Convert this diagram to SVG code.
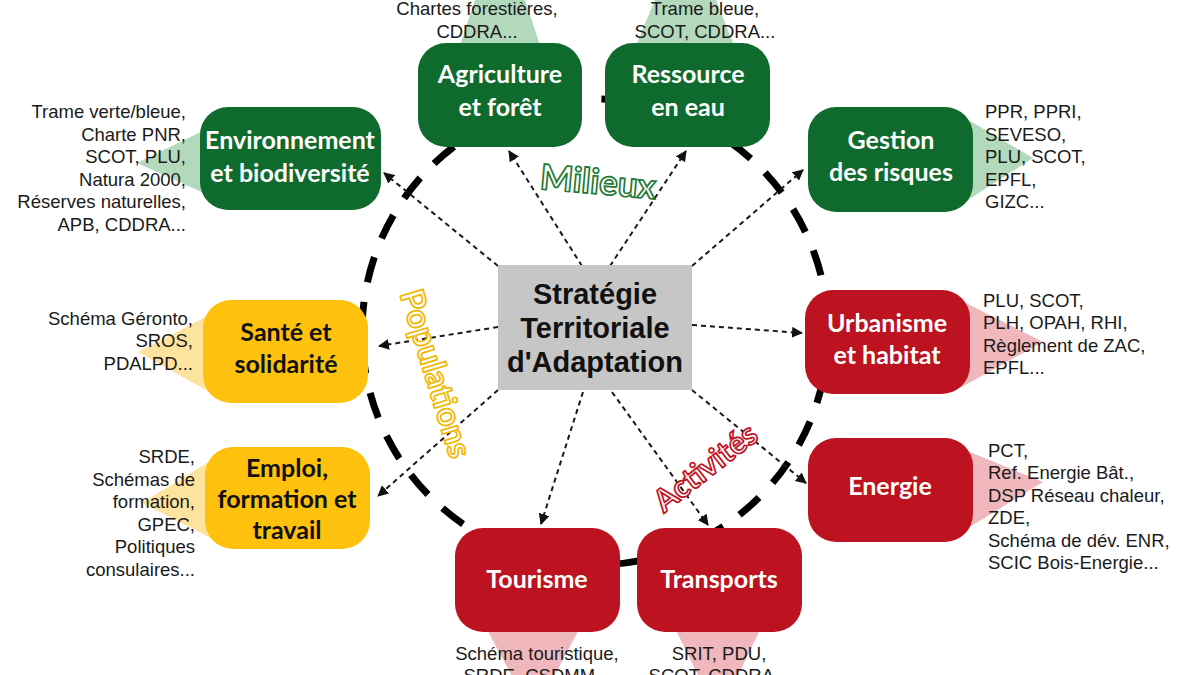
<svg xmlns="http://www.w3.org/2000/svg" width="1200" height="675" viewBox="0 0 1200 675">
<defs>
<style>
.g{fill:#0f6a2e}.y{fill:#fec10d}.r{fill:#bd1220}
.lg{fill:#b3d9bd}.ly{fill:#fde39e}.lr{fill:#f0b8bd}
.t{font-family:Lato,"Open Sans",sans-serif;font-weight:bold;font-size:25px;text-anchor:middle}
.w{fill:#ffffff}.k{fill:#111111}
.c{font-family:"Liberation Sans",Arial,sans-serif;font-size:18.5px;fill:#1a1a1a}
.e{text-anchor:end}.m{text-anchor:middle}
.arr{fill:none;stroke:#1a1a1a;stroke-width:2;stroke-dasharray:5 4;marker-end:url(#ah)}
.lab{font-family:Lato,"Open Sans",sans-serif;font-weight:bold;fill:#ffffff;stroke-width:1.7}
</style>
<marker id="ah" markerWidth="11" markerHeight="11" refX="10" refY="5.5" orient="auto" markerUnits="userSpaceOnUse" viewBox="0 0 11 11">
<path d="M0,0 L11,5.5 L0,11 z" fill="#111"/>
</marker>
</defs>
<rect width="1200" height="675" fill="#ffffff"/>

<g id="ring">
<circle cx="595" cy="332" r="233" fill="none" stroke="#000" stroke-width="7" stroke-dasharray="26 20"/>
</g>

<g id="callouts">
<polygon class="lg" points="137,163 215,125 215,198"/>
<polygon class="lg" points="500,-75 455,60 545,60"/>
<polygon class="lg" points="686,-75 630,60 740,60"/>
<polygon class="lg" points="1033,158 960,115 960,205"/>
<polygon class="ly" points="138,352 215,312 215,395"/>
<polygon class="ly" points="142,503 215,458 215,540"/>
<polygon class="lr" points="1043,342 960,300 960,388"/>
<polygon class="lr" points="1043,482 960,448 960,533"/>
<polygon class="lr" points="533,716 482,620 584,620"/>
<polygon class="lr" points="718,716 671,620 765,620"/>
</g>

<g id="connectors">
<line class="arr" x1="498" y1="266" x2="384" y2="173"/>
<line class="arr" x1="582" y1="266" x2="509" y2="151"/>
<line class="arr" x1="610" y1="266" x2="686" y2="151"/>
<line class="arr" x1="692" y1="266" x2="803" y2="170"/>
<line class="arr" x1="498" y1="327" x2="379" y2="346"/>
<line class="arr" x1="692" y1="325" x2="802" y2="333"/>
<line class="arr" x1="498" y1="390" x2="378" y2="496"/>
<line class="arr" x1="692" y1="390" x2="806" y2="483"/>
<line class="arr" x1="583" y1="392" x2="541" y2="524"/>
<line class="arr" x1="612" y1="392" x2="708" y2="525"/>
</g>

<g id="center">
<rect x="498" y="265" width="194" height="125" fill="#c6c6c6"/>
<text font-family="Liberation Sans,Arial,sans-serif" font-weight="bold" font-size="29" fill="#111" text-anchor="middle"><tspan x="595" y="304">Stratégie</tspan><tspan x="595" y="338">Territoriale</tspan><tspan x="595" y="372">d'Adaptation</tspan></text>
</g>

<g id="agriculture">
<rect class="g" x="418" y="43" width="164" height="104" rx="28"/>
<text class="t w"><tspan x="500" y="83">Agriculture</tspan><tspan x="500" y="116">et forêt</tspan></text>
<text class="c m"><tspan x="477" y="15">Chartes forestières,</tspan><tspan x="477" y="38">CDDRA...</tspan></text>
</g>

<g id="ressource">
<rect class="g" x="605" y="43" width="165" height="104" rx="28"/>
<text class="t w"><tspan x="688" y="83">Ressource</tspan><tspan x="688" y="116">en eau</tspan></text>
<text class="c m"><tspan x="705" y="15">Trame bleue,</tspan><tspan x="705" y="38">SCOT, CDDRA...</tspan></text>
</g>

<g id="environnement">
<rect class="g" x="200" y="107" width="181" height="103" rx="28"/>
<text class="t w"><tspan x="290" y="149">Environnement</tspan><tspan x="290" y="182">et biodiversité</tspan></text>
<text class="c e"><tspan x="186" y="118">Trame verte/bleue,</tspan><tspan x="186" y="141">Charte PNR,</tspan><tspan x="186" y="163">SCOT, PLU,</tspan><tspan x="186" y="186">Natura 2000,</tspan><tspan x="186" y="208">Réserves naturelles,</tspan><tspan x="186" y="231">APB, CDDRA...</tspan></text>
</g>

<g id="risques">
<rect class="g" x="808" y="107" width="165" height="105" rx="28"/>
<text class="t w"><tspan x="891" y="149">Gestion</tspan><tspan x="891" y="181">des risques</tspan></text>
<text class="c"><tspan x="985" y="118">PPR, PPRI,</tspan><tspan x="985" y="141">SEVESO,</tspan><tspan x="985" y="163">PLU, SCOT,</tspan><tspan x="985" y="186">EPFL,</tspan><tspan x="985" y="208">GIZC...</tspan></text>
</g>

<g id="sante">
<rect class="y" x="203" y="300" width="165" height="103" rx="28"/>
<text class="t k"><tspan x="286" y="341">Santé et</tspan><tspan x="286" y="373">solidarité</tspan></text>
<text class="c e"><tspan x="193" y="325">Schéma Géronto,</tspan><tspan x="193" y="347">SROS,</tspan><tspan x="193" y="370">PDALPD...</tspan></text>
</g>

<g id="emploi">
<rect class="y" x="205" y="447" width="165" height="102" rx="28"/>
<text class="t k"><tspan x="287" y="477">Emploi,</tspan><tspan x="287" y="508">formation et</tspan><tspan x="287" y="539">travail</tspan></text>
<text class="c e"><tspan x="195" y="463">SRDE,</tspan><tspan x="195" y="486">Schémas de</tspan><tspan x="195" y="508">formation,</tspan><tspan x="195" y="531">GPEC,</tspan><tspan x="195" y="553">Politiques</tspan><tspan x="195" y="576">consulaires...</tspan></text>
</g>

<g id="urbanisme">
<rect class="r" x="805" y="290" width="165" height="104" rx="28"/>
<text class="t w"><tspan x="887" y="332">Urbanisme</tspan><tspan x="887" y="364">et habitat</tspan></text>
<text class="c"><tspan x="983" y="307">PLU, SCOT,</tspan><tspan x="983" y="329">PLH, OPAH, RHI,</tspan><tspan x="983" y="352">Règlement de ZAC,</tspan><tspan x="983" y="374">EPFL...</tspan></text>
</g>

<g id="energie">
<rect class="r" x="808" y="438" width="165" height="104" rx="28"/>
<text class="t w" x="890" y="495">Energie</text>
<text class="c"><tspan x="988" y="457">PCT,</tspan><tspan x="988" y="479">Ref. Energie Bât.,</tspan><tspan x="988" y="502">DSP Réseau chaleur,</tspan><tspan x="988" y="524">ZDE,</tspan><tspan x="988" y="547">Schéma de dév. ENR,</tspan><tspan x="988" y="569">SCIC Bois-Energie...</tspan></text>
</g>

<g id="tourisme">
<rect class="r" x="455" y="528" width="165" height="104" rx="28"/>
<text class="t w" x="537" y="588">Tourisme</text>
<text class="c m"><tspan x="537" y="660">Schéma touristique,</tspan><tspan x="537" y="682">SRDE, CSDMM...</tspan></text>
</g>

<g id="transports">
<rect class="r" x="637" y="528" width="165" height="104" rx="28"/>
<text class="t w" x="719" y="588">Transports</text>
<text class="c m"><tspan x="719" y="660">SRIT, PDU,</tspan><tspan x="719" y="682">SCOT, CDDRA...</tspan></text>
</g>

<g id="labels">
<text class="lab" font-size="35" stroke="#1e7a34" text-anchor="middle" transform="translate(597,194) rotate(5)">Milieux</text>
<text class="lab" font-size="33" stroke="#f2b800" text-anchor="middle" transform="translate(425,377) rotate(73)">Populations</text>
<text class="lab" font-size="31" stroke="#c0121f" text-anchor="middle" transform="translate(712,476) rotate(-38)">Activités</text>
</g>
</svg>
